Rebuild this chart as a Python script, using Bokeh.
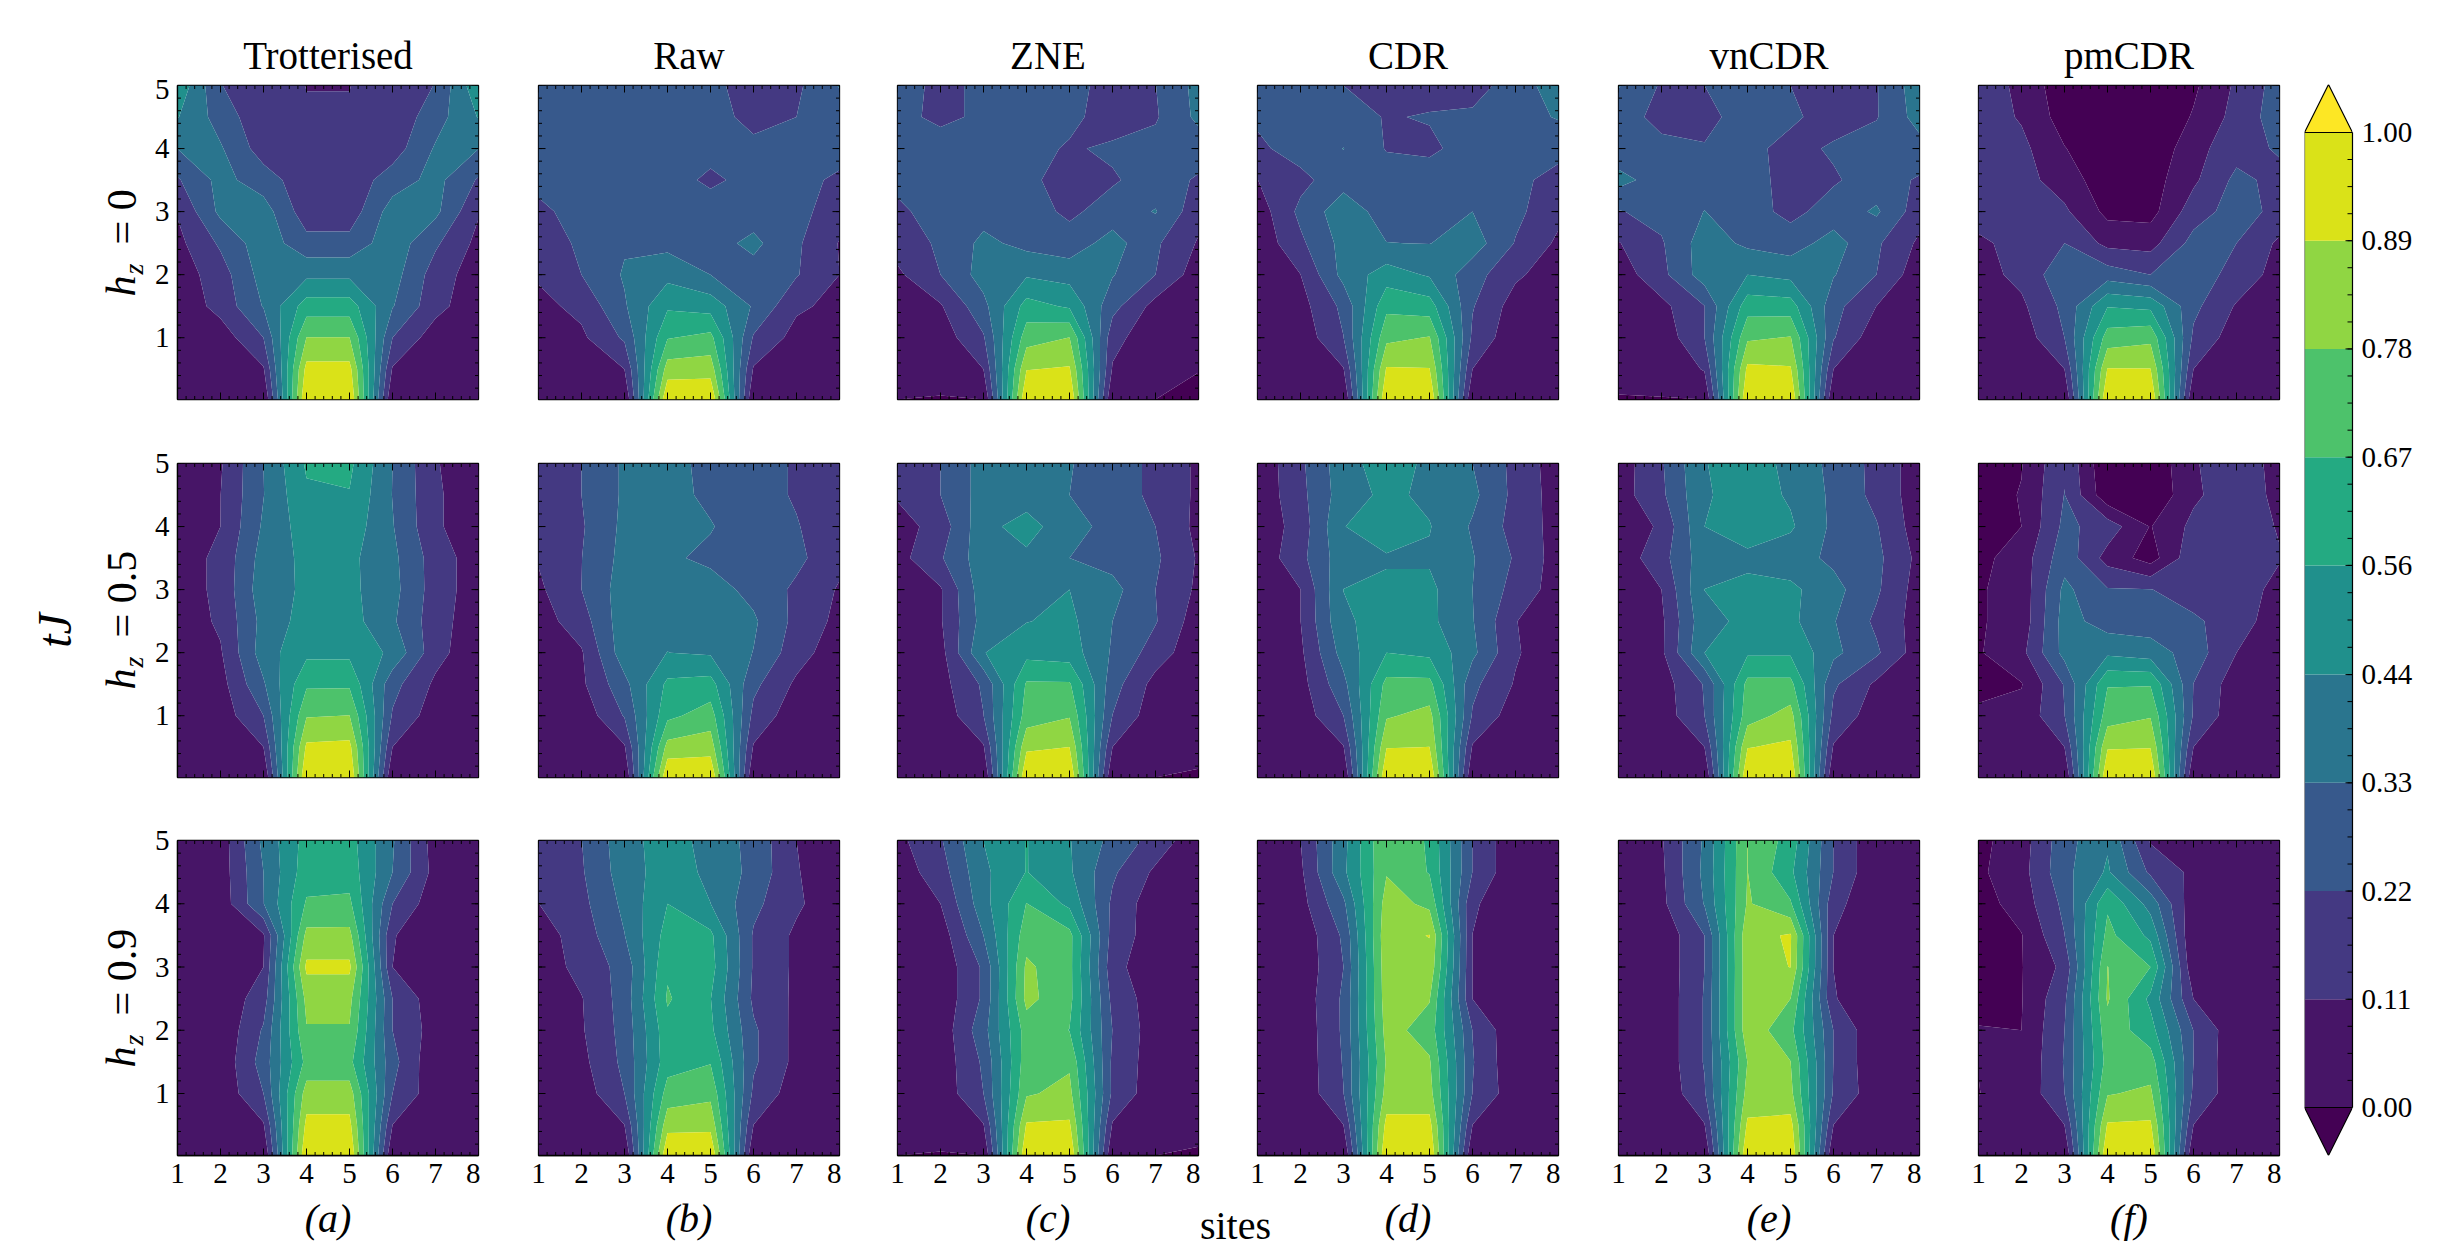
import numpy as np
from bokeh.embed import file_html
from bokeh.layouts import column, row
from bokeh.models import FixedTicker, Label, LinearAxis, NumeralTickFormatter, Range1d
from bokeh.palettes import Viridis256
from bokeh.plotting import figure
from bokeh.resources import INLINE

SITES = [1, 2, 3, 4, 5, 6, 7, 8]
TIMES = [5, 4.5, 4, 3.5, 3, 2.5, 2, 1.5, 1, 0.5, 0.02]
CBAR_LEVELS = [0.0, 0.111, 0.222, 0.333, 0.444, 0.556, 0.667, 0.778, 0.889, 1.0]
METHODS = ["Trotterised", "Raw", "ZNE", "CDR", "vnCDR", "pmCDR"]
HZ_LABELS = ["= 0", "= 0.5", "= 0.9"]
PANEL_TAGS = ["(a)", "(b)", "(c)", "(d)", "(e)", "(f)"]

TROT_H0 = [
 [.53,.225,.17,.109,.109,.17,.225,.53],
 [.45,.285,.14,.12,.12,.14,.285,.45],
 [.335,.345,.167,.13,.13,.167,.345,.335],
 [.21,.368,.277,.152,.152,.277,.368,.21],
 [.12,.36,.385,.158,.158,.385,.36,.12],
 [.08,.24,.40,.26,.26,.40,.24,.08],
 [.05,.17,.38,.42,.42,.38,.17,.05],
 [.03,.15,.34,.61,.61,.34,.15,.03],
 [.02,.05,.222,.78,.78,.222,.05,.02],
 [.01,.02,.10,.925,.925,.10,.02,.01],
 [0,0,0,1,1,0,0,0]]
RAW_H0 = [
 [.25,.26,.27,.27,.24,.19,.20,.34],
 [.26,.27,.28,.27,.25,.20,.222,.28],
 [.27,.28,.28,.27,.26,.24,.25,.27],
 [.25,.28,.28,.27,.20,.26,.26,.20],
 [.2,.26,.30,.30,.28,.28,.26,.16],
 [.165,.24,.32,.30,.29,.36,.24,.105],
 [.125,.222,.345,.41,.333,.29,.23,.111],
 [.08,.14,.32,.54,.51,.32,.13,.08],
 [.04,.09,.24,.66,.70,.21,.07,.03],
 [.01,.02,.111,.83,.84,.10,.02,.01],
 [0,0,0,1,1,0,0,0]]
ZNE_H0 = [
 [.26,.2,.24,.27,.26,.18,.22,.37],
 [.25,.2,.24,.27,.25,.17,.21,.36],
 [.26,.27,.28,.26,.21,.24,.26,.27],
 [.25,.28,.29,.25,.17,.21,.27,.21],
 [.2,.27,.29,.27,.20,.27,.34,.15],
 [.16,.24,.36,.30,.27,.38,.24,.10],
 [.09,.222,.38,.43,.40,.34,.222,.05],
 [.05,.10,.30,.60,.54,.26,.07,.03],
 [.02,.05,.21,.73,.78,.15,.03,.01],
 [.01,.02,.111,.885,.90,.10,.02,.005],
 [0,-.003,0,1,1,0,0,-.04]]
CDR_H0 = [
 [.27,.25,.222,.18,.18,.18,.27,.40],
 [.24,.28,.27,.215,.23,.24,.30,.34],
 [.20,.27,.335,.215,.20,.27,.29,.27],
 [.11,.19,.29,.28,.28,.28,.26,.17],
 [.05,.25,.40,.28,.28,.333,.25,.14],
 [.03,.20,.37,.335,.33,.39,.215,.09],
 [.04,.11,.37,.50,.43,.27,.13,.05],
 [.02,.07,.25,.64,.61,.23,.06,.02],
 [.01,.04,.22,.75,.785,.20,.03,.01],
 [.01,.02,.105,.90,.893,.11,.02,.01],
 [0,0,0,1,1,0,0,0]]
VN_H0 = [
 [.34,.21,.222,.26,.222,.18,.215,.40],
 [.27,.19,.19,.27,.24,.18,.215,.38],
 [.26,.25,.23,.25,.19,.235,.28,.29],
 [.37,.28,.29,.27,.18,.21,.27,.21],
 [.215,.26,.335,.27,.19,.27,.35,.16],
 [.105,.21,.39,.31,.28,.38,.24,.09],
 [.05,.19,.39,.444,.41,.34,.222,.04],
 [.02,.08,.22,.62,.61,.26,.11,.03],
 [.01,.04,.222,.76,.785,.23,.04,.01],
 [.01,.02,.12,.915,.90,.11,.02,.01],
 [-.002,-.002,0,1,1,0,0,0]]
PM_H0 = [
 [.16,.09,-.08,-.1,-.1,-.02,.13,.27],
 [.17,.10,-.05,-.1,-.1,.01,.15,.28],
 [.19,.14,.005,-.09,-.09,.07,.18,.235],
 [.17,.15,.06,-.07,-.05,.09,.25,.19],
 [.16,.17,.13,-.03,-.04,.17,.27,.19],
 [.09,.15,.222,.08,.07,.26,.222,.09],
 [.07,.14,.30,.28,.222,.27,.19,.06],
 [.02,.09,.25,.55,.53,.25,.10,.03],
 [.01,.05,.222,.72,.75,.20,.05,.01],
 [.01,.02,.11,.895,.892,.11,.02,.01],
 [0,0,0,1,1,0,0,0]]

TROT_H5 = [
 [.03,.10,.333,.57,.58,.333,.12,.03],
 [.03,.11,.33,.54,.55,.33,.13,.03],
 [.03,.111,.35,.50,.51,.34,.13,.03],
 [.05,.14,.38,.47,.47,.36,.17,.05],
 [.05,.14,.40,.46,.47,.37,.17,.05],
 [.04,.13,.37,.49,.49,.35,.16,.04],
 [.03,.10,.39,.53,.53,.42,.15,.03],
 [.02,.07,.32,.65,.65,.26,.09,.02],
 [.01,.05,.222,.77,.78,.21,.05,.01],
 [.01,.02,.11,.91,.92,.11,.02,.01],
 [0,0,0,1,1,0,0,0]]
RAW_H5 = [
 [.13,.222,.35,.36,.31,.27,.21,.15],
 [.14,.222,.35,.37,.31,.27,.21,.15],
 [.14,.21,.36,.37,.34,.27,.23,.14],
 [.12,.22,.37,.35,.31,.29,.25,.14],
 [.09,.222,.39,.40,.38,.30,.20,.10],
 [.06,.17,.40,.42,.42,.35,.19,.08],
 [.02,.10,.40,.445,.43,.33,.16,.04],
 [.01,.09,.30,.58,.60,.25,.09,.02],
 [.01,.04,.23,.64,.72,.19,.04,.01],
 [.01,.02,.10,.82,.84,.10,.02,.01],
 [0,0,0,1,1,0,0,0]]
ZNE_H5 = [
 [.13,.222,.38,.39,.34,.27,.20,.09],
 [.125,.222,.38,.39,.333,.27,.20,.09],
 [.06,.16,.41,.49,.37,.30,.222,.08],
 [.07,.21,.40,.42,.333,.29,.24,.10],
 [.04,.10,.40,.41,.444,.37,.222,.09],
 [.02,.10,.38,.44,.47,.333,.23,.05],
 [.01,.07,.44,.52,.50,.32,.17,.03],
 [.01,.07,.24,.68,.68,.27,.07,.02],
 [.01,.04,.22,.72,.77,.22,.04,.01],
 [.01,.02,.10,.87,.89,.11,.02,.05],
 [0,0,0,1,1,0,0,-.02]]
CDR_H5 = [
 [.03,.20,.40,.50,.42,.333,.19,.05],
 [.03,.19,.39,.47,.42,.36,.19,.06],
 [.03,.16,.44,.52,.45,.32,.18,.07],
 [.03,.19,.40,.43,.43,.34,.21,.06],
 [.02,.11,.445,.47,.47,.333,.18,.06],
 [.01,.11,.43,.48,.47,.34,.115,.03],
 [.01,.09,.38,.555,.53,.36,.125,.02],
 [.01,.07,.30,.70,.70,.25,.10,.02],
 [.01,.05,.222,.765,.815,.21,.05,.01],
 [.01,.02,.105,.885,.89,.10,.02,.01],
 [0,0,0,1,1,0,0,0]]
VN_H5 = [
 [.05,.21,.44,.49,.42,.30,.19,.05],
 [.06,.20,.43,.50,.43,.31,.19,.05],
 [.03,.13,.444,.50,.46,.31,.23,.05],
 [.04,.18,.40,.42,.38,.31,.25,.08],
 [.02,.111,.445,.47,.47,.37,.24,.06],
 [.02,.09,.41,.47,.47,.34,.20,.06],
 [.01,.09,.444,.54,.54,.36,.24,.05],
 [.01,.06,.23,.70,.70,.24,.09,.01],
 [.01,.05,.222,.73,.82,.19,.05,.01],
 [.01,.02,.11,.885,.91,.10,.02,.01],
 [0,0,0,1,1,0,0,0]]
PM_H5 = [
 [-.05,-.005,.21,-.10,-.09,.10,.18,.07],
 [-.04,.005,.225,-.08,-.10,.09,.18,.08],
 [-.04,.00,.25,.17,-.005,.14,.19,.10],
 [-.03,.05,.29,.07,-.05,.19,.19,.12],
 [-.01,.04,.36,.23,.225,.17,.18,.07],
 [-.01,.04,.38,.28,.27,.24,.17,.04],
 [-.01,.08,.37,.42,.39,.28,.111,.03],
 [-.03,-.005,.23,.66,.66,.22,.05,.02],
 [.02,.03,.22,.725,.77,.21,.04,.01],
 [.01,.02,.11,.88,.885,.11,.02,.01],
 [0,0,0,1,1,0,0,0]]

TROT_H9 = [
 [.01,.05,.36,.60,.60,.345,.055,.01],
 [.01,.05,.333,.62,.62,.333,.07,.01],
 [.01,.04,.33,.68,.69,.222,.04,.01],
 [.01,.02,.10,.81,.81,.12,.02,.01],
 [.01,.02,.111,.912,.912,.111,.02,.01],
 [.01,.03,.17,.81,.81,.222,.04,.01],
 [.01,.02,.235,.77,.77,.222,.06,.01],
 [.01,.03,.27,.70,.70,.26,.02,.01],
 [.01,.03,.222,.83,.83,.222,.04,.01],
 [.01,.02,.10,.92,.92,.11,.02,.01],
 [0,0,0,1,1,0,0,0]]
RAW_H9 = [
 [.15,.22,.40,.50,.40,.30,.111,.02],
 [.15,.21,.39,.50,.42,.30,.12,.02],
 [.11,.19,.36,.556,.445,.25,.13,.03],
 [.06,.16,.33,.60,.58,.21,.09,.03],
 [.04,.15,.26,.65,.60,.21,.09,.03],
 [.03,.105,.27,.68,.56,.20,.09,.03],
 [.03,.10,.26,.63,.58,.24,.08,.02],
 [.02,.08,.25,.62,.66,.24,.08,.02],
 [.02,.05,.222,.715,.75,.20,.05,.01],
 [.01,.02,.11,.85,.856,.11,.02,.01],
 [0,0,0,1,1,0,0,0]]
ZNE_H9 = [
 [.08,.21,.445,.56,.45,.30,.18,.03],
 [.05,.17,.42,.56,.46,.24,.09,.02],
 [.02,.111,.40,.67,.53,.20,.04,.01],
 [.01,.05,.333,.73,.70,.18,.05,.01],
 [.01,.03,.24,.80,.70,.15,.03,.01],
 [.01,.03,.24,.81,.70,.19,.05,.01],
 [.01,.04,.29,.72,.665,.22,.05,.01],
 [.01,.04,.24,.73,.76,.20,.05,.01],
 [.01,.04,.222,.765,.81,.20,.04,.01],
 [.01,.02,.105,.90,.905,.10,.02,.05],
 [0,-.003,0,1,1,0,0,-.02]]
CDR_H9 = [
 [.01,.11,.41,.78,.65,.22,.02,.01],
 [.01,.09,.42,.77,.66,.22,.02,.01],
 [.01,.07,.31,.83,.75,.13,.02,.01],
 [.01,.03,.24,.86,.892,.11,.02,.01],
 [.01,.03,.222,.85,.86,.11,.02,.01],
 [.01,.04,.24,.84,.785,.11,.02,.01],
 [.01,.03,.24,.82,.73,.22,.02,.01],
 [.01,.03,.23,.79,.79,.23,.02,.01],
 [.01,.03,.22,.82,.82,.22,.04,.01],
 [.01,.02,.11,.925,.925,.11,.02,.01],
 [0,0,0,1,1,0,0,0]]
VN_H9 = [
 [.01,.10,.35,.78,.62,.22,.02,.01],
 [.01,.09,.36,.78,.58,.22,.02,.01],
 [.01,.08,.34,.79,.68,.15,.02,.01],
 [.01,.03,.222,.855,.90,.111,.02,.01],
 [.01,.03,.222,.85,.891,.11,.02,.01],
 [.01,.03,.23,.85,.778,.12,.02,.01],
 [.01,.03,.23,.85,.70,.22,.02,.01],
 [.01,.03,.23,.78,.78,.22,.02,.01],
 [.01,.02,.21,.82,.81,.21,.04,.01],
 [.01,.02,.105,.91,.93,.11,.02,.01],
 [0,0,0,1,1,0,0,0]]
PM_H9 = [
 [-.03,.06,.29,.43,.10,.02,.01,.01],
 [-.02,.07,.30,.46,.20,.085,.02,.01],
 [-.05,.05,.25,.65,.40,.03,.01,.01],
 [-.06,-.005,.22,.70,.53,.005,.01,.01],
 [-.06,-.005,.14,.78,.667,.02,.01,.01],
 [-.055,-.005,.20,.79,.53,.11,.01,.01],
 [.01,.00,.222,.74,.60,.22,.03,.01],
 [.001,.01,.23,.71,.72,.222,.02,.01],
 [-.001,.02,.222,.77,.80,.20,.04,.01],
 [.01,.02,.11,.90,.905,.11,.02,.01],
 [0,0,0,1,1,0,0,0]]

GRIDS = [
    [TROT_H0, RAW_H0, ZNE_H0, CDR_H0, VN_H0, PM_H0],
    [TROT_H5, RAW_H5, ZNE_H5, CDR_H5, VN_H5, PM_H5],
    [TROT_H9, RAW_H9, ZNE_H9, CDR_H9, VN_H9, PM_H9],
]

FONT = "Liberation Serif"
TICK_SIZE = "29px"
n_bands = len(CBAR_LEVELS) - 1
band_colors = [Viridis256[int((i + 0.5) / n_bands * 256)] for i in range(n_bands)]
UNDER, OVER = Viridis256[0], Viridis256[255]
levels = [-1.0] + CBAR_LEVELS + [2.0]
fills = [UNDER] + band_colors + [OVER]

# page layout in pixels
PAGE_H = 1241
STRIP_L = 146           # left strip: the rotated labels
STRIP_T = 79            # top strip: the method titles
STRIP_B = 40            # bottom strip: the panel tags and "sites"
FRAME_W, FRAME_H = 301, [314, 314, 315]
FRAME_X = [177, 538, 897, 1257, 1618, 1978]
LEFTS = [31, 58, 56, 57, 58, 57]
TOPS = [6, 62, 61]
RIGHT, BOTTOM = 2, 2
LAST_BOTTOM = 46
GRID_W = 2281 - STRIP_L
BASELINE_SHIFT = 0.37   # how far Label draws an alphabetic baseline below the anchor, in em
LEFT_STRIP_DROP = 85    # vertical offset of anchors in the left strip

x_minor = [1 + 0.2 * i for i in range(36)]
y_major = [1, 2, 3, 4, 5]
y_minor = [0.2 * i for i in range(1, 26)]
MAJOR_LEN, MINOR_LEN = 7, 3.5


def style_axis(ax, labels):
    ax.axis_line_color = "black"
    ax.axis_line_width = 1.3
    ax.major_tick_line_color = None
    ax.minor_tick_line_color = None
    ax.major_tick_in = 0
    ax.major_tick_out = 0
    ax.minor_tick_in = 0
    ax.minor_tick_out = 0
    ax.major_label_text_font = FONT
    ax.major_label_text_font_size = TICK_SIZE
    ax.major_label_text_color = "black"
    ax.major_label_standoff = 8
    ax.visible = labels


def add_ticks(p, H):
    """Inward ticks on all four sides of a frame, placed through the panel's scales."""
    x0, x1 = 1.0, 8.0
    y0, y1 = TIMES[-1], TIMES[0]
    dx = (x1 - x0) / FRAME_W
    dy = (y1 - y0) / H
    for ticks, length in ((SITES, MAJOR_LEN), (x_minor, MINOR_LEN)):
        t = np.array(ticks, dtype=float)
        p.segment(t, y0, t, y0 + length * dy, line_color="black", line_width=1)
        p.segment(t, y1, t, y1 - length * dy, line_color="black", line_width=1)
    for ticks, length in ((y_major, MAJOR_LEN), (y_minor, MINOR_LEN)):
        t = np.array(ticks, dtype=float)
        p.segment(x0, t, x0 + length * dx, t, line_color="black", line_width=1)
        p.segment(x1, t, x1 - length * dx, t, line_color="black", line_width=1)


def panel(r, c):
    L, T, H = LEFTS[c], TOPS[r], FRAME_H[r]
    B = LAST_BOTTOM if r == 2 else BOTTOM
    p = figure(width=L + FRAME_W + RIGHT, height=T + H + B, output_backend="svg", toolbar_location=None,
               x_range=Range1d(1, 8), y_range=Range1d(TIMES[-1], TIMES[0]),
               min_border_left=L, min_border_right=RIGHT, min_border_top=T, min_border_bottom=B,
               x_axis_type=None, y_axis_type=None, background_fill_color="white",
               outline_line_color="black", outline_line_width=1.3)
    z = np.array(GRIDS[r][c], dtype=float)[::-1]
    ys = np.array(TIMES, dtype=float)[::-1]
    rend = p.contour(np.array(SITES, dtype=float), ys, z, levels=levels, fill_color=fills, line_color=None)
    glyph = rend.fill_renderer.glyph
    glyph.line_color = glyph.fill_color
    glyph.line_width = 0.6
    add_ticks(p, H)
    if r == 2:
        bottom = LinearAxis(ticker=FixedTicker(ticks=SITES))
        style_axis(bottom, True)
        p.add_layout(bottom, "below")
    if c == 0:
        left = LinearAxis(ticker=FixedTicker(ticks=y_major))
        style_axis(left, True)
        p.add_layout(left, "left")
    return p


def strip(w, h):
    s = figure(width=w, height=h, output_backend="svg", toolbar_location=None,
               x_range=Range1d(0, w), y_range=Range1d(0, h),
               min_border=0, x_axis_type=None, y_axis_type=None, outline_line_color=None)
    s.grid.visible = False
    return s


def add_text(p, x, y, text, size, style="normal", angle=0.0, align="center"):
    if angle:
        x = x - BASELINE_SHIFT * size
    else:
        y = y + BASELINE_SHIFT * size
    p.add_layout(Label(x=x, y=y, x_units="screen", y_units="screen", text=text,
                       text_font=FONT, text_font_size=f"{size}px", text_font_style=style,
                       text_align=align, text_baseline="alphabetic", angle=angle,
                       text_color="black"))


# left strip
left_strip = strip(STRIP_L, PAGE_H)
HZ_PAGE_Y = [297, 690, 1068]
for r in range(3):
    y = PAGE_H - HZ_PAGE_Y[r] - LEFT_STRIP_DROP
    add_text(left_strip, 136, y, "h", 42, style="italic", angle=np.pi / 2, align="left")
    add_text(left_strip, 143, y + 22, "z", 28, style="italic", angle=np.pi / 2, align="left")
    add_text(left_strip, 137, y + 52, HZ_LABELS[r], 42, angle=np.pi / 2, align="left")
add_text(left_strip, 72, PAGE_H - 625 - LEFT_STRIP_DROP - 6, "tJ", 48, style="italic", angle=np.pi / 2)

# top strip
top_strip = strip(GRID_W, STRIP_T)
for c in range(6):
    add_text(top_strip, FRAME_X[c] + FRAME_W / 2 - STRIP_L, STRIP_T - 69, METHODS[c], 39)

# bottom strip
bottom_strip = strip(GRID_W, STRIP_B)
for c in range(6):
    add_text(bottom_strip, FRAME_X[c] + FRAME_W / 2 - STRIP_L, 8, PANEL_TAGS[c], 40, style="italic")
add_text(bottom_strip, 1235 - STRIP_L, 1, "sites", 40)

grid_rows = [row(*[panel(r, c) for c in range(6)]) for r in range(3)]

# colour bar: its own figure, drawn from the same levels
tip = 48 / 975
cb = figure(width=171, height=PAGE_H, output_backend="svg", toolbar_location=None,
            x_range=Range1d(0, 1), y_range=Range1d(-tip, 1 + tip),
            min_border_left=23, min_border_right=100, min_border_top=84, min_border_bottom=86,
            x_axis_type=None, y_axis_type=None, outline_line_color=None)
cb.quad(left=0, right=1, bottom=CBAR_LEVELS[:-1], top=CBAR_LEVELS[1:], fill_color=band_colors, line_color=None)
cb.patch([0, 0.5, 1], [1, 1 + tip, 1], fill_color=OVER, line_color="black", line_width=1.2)
cb.patch([0, 0.5, 1], [0, -tip, 0], fill_color=UNDER, line_color="black", line_width=1.2)
cb.line([0, 0], [0, 1], line_color="#555555", line_width=1.2)
minor = sorted({round(a + (b - a) * k / 4, 4) for a, b in zip(CBAR_LEVELS[:-1], CBAR_LEVELS[1:]) for k in range(5)})
cb.segment(1 - 5 / 48, minor, 1, minor, line_color="black", line_width=1)
cb.segment(1 - 7 / 48, CBAR_LEVELS, 1, CBAR_LEVELS, line_color="black", line_width=1)
cax = LinearAxis(ticker=FixedTicker(ticks=CBAR_LEVELS), formatter=NumeralTickFormatter(format="0.00"))
cax.bounds = (0, 1)
cax.axis_line_color = "black"
cax.axis_line_width = 1.2
cax.major_tick_in = 0
cax.major_tick_out = 0
cax.minor_tick_in = 0
cax.minor_tick_out = 0
cax.major_tick_line_color = None
cax.minor_tick_line_color = None
cax.major_label_standoff = 9
cax.major_label_text_font = FONT
cax.major_label_text_font_size = TICK_SIZE
cax.major_label_text_color = "black"
cb.add_layout(cax, "right")

layout = row(left_strip, column(top_strip, *grid_rows, bottom_strip), cb)
open("out.html", "w").write(file_html(layout, INLINE))
